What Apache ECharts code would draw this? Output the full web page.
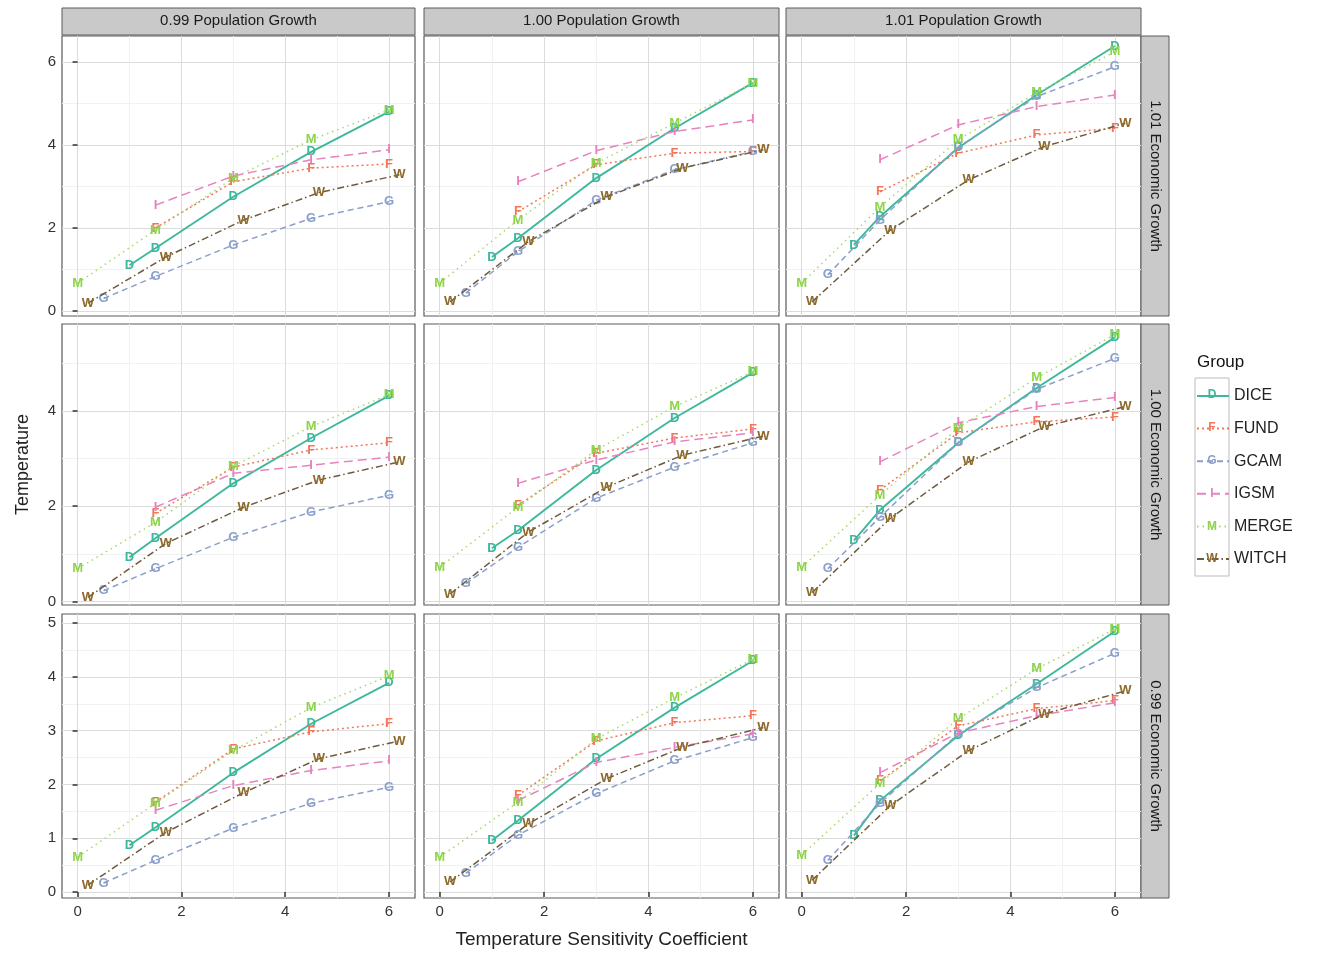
<!DOCTYPE html>
<html>
<head>
<meta charset="utf-8">
<script src="https://cdn.jsdelivr.net/npm/echarts@6/dist/echarts.min.js"></script>
<style>
  html, body { margin: 0; padding: 0; background: #fff; }
  #chart { width: 1319px; height: 957px; }
</style>
</head>
<body>
<div id="chart"></div>
<script>
// facet labels
const rowLabels = ['1.01 Economic Growth', '1.00 Economic Growth', '0.99 Economic Growth']
const colLabels = ['0.99 Population Growth', '1.00 Population Growth', '1.01 Population Growth']

const groups = ['DICE', 'FUND', 'GCAM', 'IGSM', 'MERGE', 'WITCH']
const letters = ['D', 'F', 'G', 'I', 'M', 'W']

// x values (temperature sensitivity) per model
const xDICE = [1, 1.5, 3, 4.5, 6]
const xFUND = [1.5, 3, 4.5, 6]
const xGCAM = [0.5, 1.5, 3, 4.5, 6]
const xIGSM = [1.5, 3, 4.5, 6]
const xMERGE = [0, 1.5, 3, 4.5, 6]
const xWITCH = [0.2, 1.7, 3.2, 4.65, 6.2]

// temperature per panel, order: r1c1, r1c2, r1c3, r2c1 ... r3c3
const DICE = [
  [1.1, 1.51, 2.75, 3.83, 4.8],
  [1.3, 1.75, 3.2, 4.4, 5.49],
  [1.59, 2.27, 3.93, 5.2, 6.38],
  [0.93, 1.33, 2.48, 3.43, 4.32],
  [1.12, 1.49, 2.76, 3.85, 4.8],
  [1.28, 1.92, 3.33, 4.48, 5.54],
  [0.87, 1.2, 2.22, 3.13, 3.89],
  [0.96, 1.33, 2.48, 3.43, 4.3],
  [1.05, 1.7, 2.91, 3.87, 4.85]
]
const FUND = [
  [2.0, 3.11, 3.44, 3.54],
  [2.39, 3.52, 3.8, 3.84],
  [2.87, 3.8, 4.24, 4.4],
  [1.85, 2.82, 3.18, 3.33],
  [2.02, 3.11, 3.43, 3.62],
  [2.34, 3.54, 3.77, 3.87],
  [1.67, 2.66, 2.98, 3.13],
  [1.8, 2.81, 3.15, 3.28],
  [2.07, 3.09, 3.41, 3.56]
]
const GCAM = [
  [0.3, 0.83, 1.59, 2.23, 2.63],
  [0.43, 1.43, 2.67, 3.4, 3.84],
  [0.87, 2.19, 3.95, 5.16, 5.88],
  [0.23, 0.69, 1.35, 1.88, 2.23],
  [0.38, 1.14, 2.17, 2.82, 3.33],
  [0.69, 1.77, 3.33, 4.45, 5.1],
  [0.17, 0.59, 1.19, 1.65, 1.95],
  [0.35, 1.06, 1.83, 2.44, 2.87],
  [0.59, 1.65, 2.94, 3.8, 4.44]
]
const IGSM = [
  [2.55, 3.25, 3.64, 3.88],
  [3.11, 3.86, 4.32, 4.6],
  [3.64, 4.48, 4.92, 5.2],
  [1.98, 2.69, 2.86, 3.03],
  [2.48, 2.97, 3.35, 3.54],
  [2.93, 3.75, 4.09, 4.28],
  [1.52, 1.98, 2.26, 2.44],
  [1.7, 2.41, 2.69, 2.94],
  [2.22, 2.96, 3.28, 3.52]
]
const MERGE = [
  [0.67, 1.95, 3.2, 4.12, 4.84],
  [0.67, 2.19, 3.56, 4.52, 5.49],
  [0.67, 2.5, 4.12, 5.25, 6.24],
  [0.69, 1.66, 2.84, 3.67, 4.34],
  [0.72, 1.98, 3.18, 4.09, 4.82],
  [0.72, 2.23, 3.64, 4.69, 5.6],
  [0.65, 1.65, 2.63, 3.43, 4.02],
  [0.65, 1.67, 2.85, 3.61, 4.33],
  [0.69, 2.02, 3.22, 4.15, 4.89]
]
const WITCH = [
  [0.19, 1.3, 2.19, 2.85, 3.28],
  [0.22, 1.67, 2.75, 3.44, 3.88],
  [0.22, 1.95, 3.16, 3.96, 4.52],
  [0.09, 1.22, 1.98, 2.55, 2.93],
  [0.16, 1.46, 2.4, 3.07, 3.47],
  [0.19, 1.75, 2.93, 3.67, 4.09],
  [0.13, 1.11, 1.85, 2.48, 2.81],
  [0.19, 1.27, 2.11, 2.69, 3.06],
  [0.22, 1.61, 2.63, 3.31, 3.74]
]

// axis ticks
const xTicks = [0, 2, 4, 6]
const xMinor = [1, 3, 5]
const yTicksRow = [[0, 2, 4, 6], [0, 2, 4], [0, 1, 2, 3, 4, 5]]
const yMinorRow = [[1, 3, 5], [1, 3, 5], [0.5, 1.5, 2.5, 3.5, 4.5]]
const yRangeRow = [[-0.12, 6.62], [-0.07, 5.82], [-0.11, 5.17]]
const xRange = [-0.3, 6.5]

const xByGroup = [xDICE, xFUND, xGCAM, xIGSM, xMERGE, xWITCH]
const yByGroup = [DICE, FUND, GCAM, IGSM, MERGE, WITCH]

// styling
const colors = ['#3DB89B', '#F2775A', '#8A9FCB', '#E683BE', '#8CD44A', '#8E6B2C']
const lineColors = ['#3DB89B', '#F2775A', '#8A9FCB', '#E683BE', '#A6D96A', '#6E5A3C']
const dashes = ['solid', [2, 3], [6, 4], [9, 5], [1.5, 4], [7, 3, 1.5, 3]]

const colLeft = [62, 424, 786]
const colWidth = [353, 355, 355]
const rowTop = [36, 324, 614]
const rowHeight = [280, 281, 284]
const font = 'Liberation Sans, Arial, sans-serif'

const chart = echarts.init(document.getElementById('chart'), null, { renderer: 'canvas' })

const grid = []
const xAxis = []
const yAxis = []
const series = []
const graphic = []

for (let r = 0; r < 3; r++) {
  for (let c = 0; c < 3; c++) {
    const gi = r * 3 + c
    grid.push({
      left: colLeft[c], top: rowTop[r], width: colWidth[c], height: rowHeight[r],
      show: true, backgroundColor: '#fff', borderColor: '#5a5a5a', borderWidth: 1.2
    })
    // major x axis
    xAxis.push({
      type: 'value', gridIndex: gi, min: xRange[0], max: xRange[1], position: 'bottom',
      axisLine: { show: false },
      axisTick: { show: r === 2, customValues: xTicks, length: 5, lineStyle: { color: '#333', width: 1.5 } },
      axisLabel: { show: r === 2, customValues: xTicks, color: '#333', fontSize: 15, fontFamily: font, margin: 6 },
      splitLine: { show: true, lineStyle: { color: '#dcdcdc', width: 1 } },
      name: (r === 2 && c === 1) ? 'Temperature Sensitivity Coefficient' : '',
      nameLocation: 'middle', nameGap: 32,
      nameTextStyle: { fontSize: 19, color: '#222', fontFamily: font }
    })
    // minor x axis (grid lines only)
    xAxis.push({
      type: 'value', gridIndex: gi, min: xRange[0], max: xRange[1], position: 'top',
      axisLine: { show: false }, axisTick: { show: false, customValues: xMinor },
      axisLabel: { show: false, customValues: xMinor },
      splitLine: { show: true, lineStyle: { color: '#f1f1f1', width: 1 } }
    })
    yAxis.push({
      type: 'value', gridIndex: gi, min: yRangeRow[r][0], max: yRangeRow[r][1], position: 'left',
      axisLine: { show: false },
      axisTick: { show: c === 0, customValues: yTicksRow[r], length: 5, lineStyle: { color: '#333', width: 1.5 } },
      axisLabel: { show: c === 0, customValues: yTicksRow[r], color: '#333', fontSize: 15, fontFamily: font, margin: 6 },
      splitLine: { show: true, lineStyle: { color: '#dcdcdc', width: 1 } },
      name: (r === 1 && c === 0) ? 'Temperature' : '',
      nameLocation: 'middle', nameGap: 30,
      nameTextStyle: { fontSize: 18, color: '#222', fontFamily: font }
    })
    yAxis.push({
      type: 'value', gridIndex: gi, min: yRangeRow[r][0], max: yRangeRow[r][1], position: 'right',
      axisLine: { show: false }, axisTick: { show: false, customValues: yMinorRow[r] },
      axisLabel: { show: false, customValues: yMinorRow[r] },
      splitLine: { show: true, lineStyle: { color: '#f1f1f1', width: 1 } }
    })

    groups.forEach((g, k) => {
      const xs = xByGroup[k]
      const ys = yByGroup[k][gi]
      series.push({
        name: g,
        type: 'line',
        xAxisIndex: gi * 2,
        yAxisIndex: gi * 2,
        data: xs.map((x, i) => [x, ys[i]]),
        color: colors[k],
        symbol: 'circle',
        symbolSize: 8,
        itemStyle: { color: 'rgba(0,0,0,0)', borderWidth: 0 },
        lineStyle: { color: lineColors[k], width: k === 0 ? 1.9 : 1.5, type: dashes[k] },
        label: {
          show: true, position: 'inside', formatter: letters[k],
          color: colors[k], fontSize: 13, fontWeight: 'bold', fontFamily: font
        },
        emphasis: { disabled: true },
        z: 2 + k
      })
    })
  }
  // right strip
  graphic.push({
    type: 'rect', shape: { x: 1141, y: rowTop[r], width: 28, height: rowHeight[r] },
    style: { fill: '#c9c9c9', stroke: '#5a5a5a', lineWidth: 1 }
  })
  graphic.push({
    type: 'text', x: 1155, y: rowTop[r] + rowHeight[r] / 2, rotation: -Math.PI / 2,
    style: { text: rowLabels[r], fill: '#1a1a1a', font: '15px ' + font, align: 'center', verticalAlign: 'middle' }
  })
}

// top strips
for (let c = 0; c < 3; c++) {
  graphic.push({
    type: 'rect', shape: { x: colLeft[c], y: 8, width: colWidth[c], height: 27 },
    style: { fill: '#c9c9c9', stroke: '#5a5a5a', lineWidth: 1 }
  })
  graphic.push({
    type: 'text', x: colLeft[c] + colWidth[c] / 2, y: 21,
    style: { text: colLabels[c], fill: '#1a1a1a', font: '15px ' + font, align: 'center', verticalAlign: 'middle' }
  })
}

// legend title, key frame and key letters
graphic.push({
  type: 'text', x: 1197, y: 362,
  style: { text: 'Group', fill: '#111', font: '17px ' + font, align: 'left', verticalAlign: 'middle' }
})
graphic.push({
  type: 'rect', shape: { x: 1195, y: 378, width: 34, height: 198 },
  style: { fill: 'none', stroke: '#bbbbbb', lineWidth: 1 }
})
letters.forEach((l, k) => {
  graphic.push({
    type: 'text', x: 1212, y: 395 + k * 32.8, z: 100,
    style: { text: l, fill: colors[k], font: 'bold 12px ' + font, align: 'center', verticalAlign: 'middle' }
  })
})

const option = {
  animation: false,
  backgroundColor: '#fff',
  grid,
  xAxis,
  yAxis,
  series,
  graphic,
  legend: {
    data: groups,
    orient: 'vertical',
    left: 1191,
    top: 383,
    itemWidth: 32,
    itemHeight: 20,
    itemGap: 16.6,
    textStyle: { fontSize: 16, color: '#222', fontFamily: font },
    selectedMode: false
  }
}

chart.setOption(option)
</script>
</body>
</html>
